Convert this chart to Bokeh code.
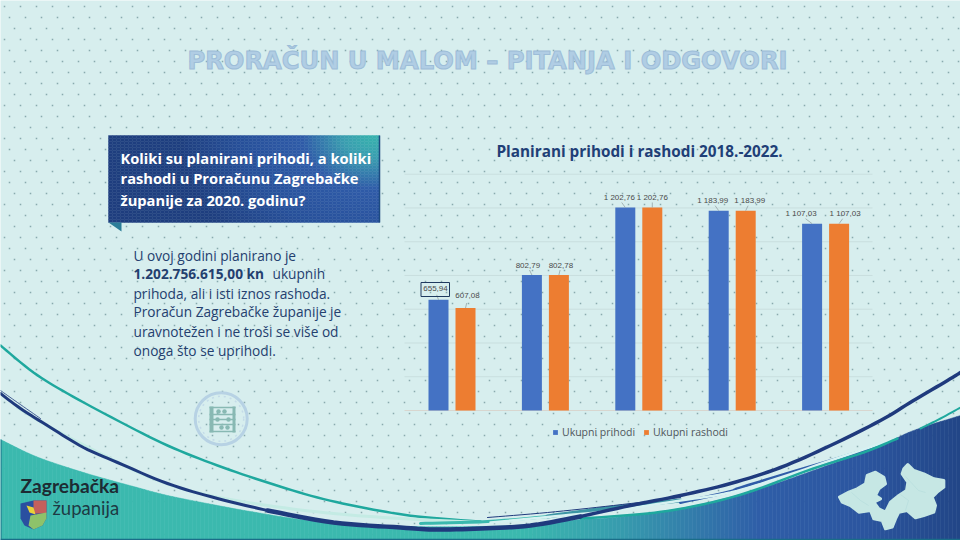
from bokeh.plotting import figure
from bokeh.models import Range1d, ColumnDataSource, Legend, LegendItem
from bokeh.core.properties import value
from bokeh.embed import file_html
from bokeh.resources import INLINE
import numpy as np

# chart data (milijuni kn)
years = [2018, 2019, 2020, 2021, 2022]
prihodi = [655.94, 802.79, 1202.76, 1183.99, 1107.03]
rashodi = [607.08, 802.78, 1202.76, 1183.99, 1107.03]
grid_values = [200, 400, 600, 800, 1000, 1200, 1400]
series_names = ["Ukupni prihodi", "Ukupni rashodi"]

# label nudges in screen px, relative to the bar top
prihodi_dx = [-3, -4, -6, -6, -11]
prihodi_dy = [-11, -10, -10, -10, -10]
rashodi_dx = [2, 2, 0, 4, 6]
rashodi_dy = [-13, -10, -10, -10, -10]

BLUE = "#4472c4"
ORANGE = "#ed7d31"
NAVY = "#1f3a7d"
TEAL = "#1fa89e"
BG = "#d7eeee"

# the slide is drawn in reference pixels
W, H = 960, 540
p = figure(width=W, height=H, output_backend="svg", toolbar_location=None,
           x_range=Range1d(0, W), y_range=Range1d(H, 0),
           x_axis_type=None, y_axis_type=None, min_border=0)
p.grid.visible = False
p.outline_line_color = None
p.background_fill_color = BG
p.border_fill_color = BG

# scales of the chart itself
BASE_Y = 410
PX_PER_UNIT = 203 / 1202.76
FIRST_X = 451.5
PX_PER_YEAR = 93.4
p.extra_y_ranges["values"] = Range1d((BASE_Y - H) / PX_PER_UNIT, BASE_Y / PX_PER_UNIT)
p.extra_x_ranges["years"] = Range1d(years[0] - FIRST_X / PX_PER_YEAR, years[0] + (W - FIRST_X) / PX_PER_YEAR)
BAR_W = 20 / PX_PER_YEAR
BAR_OFF = 13.5 / PX_PER_YEAR


def mix(stops, x):
    xs = [s[0] for s in stops]
    r = np.interp(x, xs, [int(s[1][1:3], 16) for s in stops])
    g = np.interp(x, xs, [int(s[1][3:5], 16) for s in stops])
    b = np.interp(x, xs, [int(s[1][5:7], 16) for s in stops])
    return "#%02x%02x%02x" % (int(r), int(g), int(b))


# catmull-rom through hand-read points, only for the slide's swooshes
def smooth(xs, ys, n=8):
    pts = np.column_stack([xs, ys]).astype(float)
    pts = np.vstack([pts[0], pts, pts[-1]])
    out = []
    for i in range(1, len(pts) - 2):
        a, b, c, d = pts[i - 1], pts[i], pts[i + 1], pts[i + 2]
        for t in np.linspace(0, 1, n, endpoint=False):
            out.append(0.5 * (2 * b + (c - a) * t + (2 * a - 5 * b + 4 * c - d) * t ** 2 + (3 * b - a - 3 * c + d) * t ** 3))
    out.append(pts[-2])
    out = np.array(out)
    return out[:, 0], out[:, 1]


def swoosh(xs, ys, color, width):
    sx_, sy_ = smooth(xs, ys)
    p.line(sx_, sy_, line_color=color, line_width=width, line_join="round", line_cap="round")


# dotted paper
dx, dy = [], []
for row, yy in enumerate(range(6, 540, 11)):
    for xx in range(4 + (row % 3) * 5, 960, 16):
        dx.append(xx)
        dy.append(yy)
p.scatter(dx, dy, size=1.5, marker="square", fill_color="#5f868c", line_color=None, fill_alpha=0.65)

# bottom shape with its gradient
edge_x = [0, 33, 67, 100, 133, 167, 217, 250, 300, 350, 400, 480, 530, 580, 613, 680, 747, 813, 880, 913, 960]
edge_y = [439, 455, 467, 477, 486, 495, 505, 511, 519, 524, 526, 526, 524, 519, 517, 508, 492, 470, 445, 430, 415]
fill_stops = [(0, "#3bb9ae"), (520, "#3bb9ae"), (620, "#379cae"), (760, "#2f5ea8"), (860, "#2c56a0"), (960, "#224687")]
ex, ey = smooth(edge_x, edge_y)
sx = np.arange(0, 960, 4)
sy = np.interp(np.arange(0, 964, 4), ex, ey)
strip_c = [mix(fill_stops, x + 2) for x in sx]
p.patches([[x, x + 4, x + 4, x] for x in sx],
          [[sy[i], sy[i + 1], 540, 540] for i in range(len(sx))],
          fill_color=strip_c, line_color=strip_c, line_width=0.5)
p.line([0, 960], [539, 539], line_color="#1a6d88", line_width=1.5)
p.line([0.5, 0.5], [439, 540], line_color="#1a6d88", line_width=1)

# swooshes
swoosh([0, 33, 67, 117, 167, 217, 267, 317, 367, 417, 480],
       [345, 372, 393, 420, 445, 465, 482, 497, 508, 516, 521], TEAL, 2.5)
swoosh([17, 50, 100, 150, 200, 267, 333, 400, 480],
       [407, 427, 453, 477, 493, 505, 513, 518, 522], "#c4ebe4", 3)
swoosh([0, 17, 40], [390, 402, 418], NAVY, 0.8)
swoosh([420, 487, 547], [523, 521, 516], "#3bb9ae", 3)
swoosh([547, 613, 680], [516, 507, 500], "#3c94a4", 4)
swoosh([487, 547, 613, 680], [517, 512, 505, 497], NAVY, 1)
swoosh([680, 730, 747, 880], [502, 491, 485, 445], "#2f5ca8", 3)
swoosh([490, 563, 613, 680, 730, 780, 830, 890], [522, 515, 510, 500, 492, 477, 460, 440], "#d6f2f2", 2.5)
swoosh([580, 647, 697, 747, 813, 863, 897], [518, 513, 505, 492, 468, 452, 438], TEAL, 2.5)
swoosh([920, 940, 960], [428, 418, 407], TEAL, 2)
swoosh([0, 20, 50, 83, 117, 167, 217, 267], [393, 408, 427, 447, 462, 483, 498, 510], NAVY, 3)
swoosh([267, 333, 400, 433, 480, 530, 580], [510, 522, 527, 529, 528, 525, 516], NAVY, 4.5)
swoosh([580, 630, 680, 730, 780, 830, 880, 913, 947, 960], [516, 505, 495, 483, 467, 445, 420, 400, 380, 372], NAVY, 3.5)

# map of the county
map_x = [57, 85, 110, 135, 140, 165, 190, 195, 175, 165, 180, 160, 175, 195, 210, 235, 258, 262, 245, 250, 262, 280, 310,
         340, 370, 370, 350, 335, 345, 340, 310, 285, 260, 235, 225, 215, 195, 185, 160, 150, 115, 90, 65]
map_y = [170, 155, 145, 130, 105, 95, 110, 130, 145, 165, 175, 185, 205, 215, 185, 165, 150, 125, 100, 85, 72, 90, 100,
         115, 120, 140, 155, 170, 195, 215, 225, 232, 210, 215, 235, 260, 265, 240, 235, 210, 215, 195, 185]
p.patch([820 + v / 3 for v in map_x], [440 + v / 3 for v in map_y], fill_color="#c6e7e4", line_color="#c6e7e4",
        line_width=3, line_join="round")
p.multi_line([[851, 860, 868], [905, 918, 925], [900, 908, 905]], [[492, 500, 505], [476, 490, 492], [494, 500, 510]],
             line_color="#b4dcdc", line_width=0.6)

# callout box with glow in the corner
box_stops = [(0, "#36b3ae"), (30, "#3a9db0"), (70, "#2f5ba8"), (130, "#27509a"), (190, "#1f3f80"), (400, "#1e3c7c")]
bl, bt, bc = [], [], []
for xx in range(108, 379, 4):
    for yy in range(135, 222, 3):
        d = np.hypot(xx + 2 - 372, (yy + 1.5 - 135) * 1.3)
        bl.append(xx)
        bt.append(yy)
        bc.append(mix(box_stops, d))
bl = np.array(bl)
bt = np.array(bt)
p.quad(left=bl, right=np.minimum(bl + 4, 379), top=bt, bottom=bt + 3, fill_color=bc, line_color=bc, line_width=0.4)
p.patch([108, 121, 121], [222, 222, 231], fill_color="#2b7d98", line_color=None)
p.line([379, 379], [135, 222], line_color="#1c4a80", line_width=1.5)

# abacus icon
p.circle([220.7], [418.3], radius=26, fill_color=None, line_color="#b7d2e4", line_width=3)
p.circle([220.7], [418.3], radius=22.5, fill_color=None, line_color="#c4dbe8", line_width=1.5, line_dash="dotted")
ICON = "#88b9b3"
p.quad(left=[209, 232], right=[213, 235], top=[406, 406], bottom=[432, 432], fill_color=ICON, line_color=None)
p.segment([209] * 5, [407, 414, 419, 424, 431], [235] * 5, [407, 414, 419, 424, 431], line_color=ICON, line_width=1.4)
p.scatter([218, 224, 217, 228, 221, 227], [411, 411, 419, 419, 427, 427], size=4.5, marker="circle", fill_color=ICON, line_color=None)

# coat of arms
p.patch([20, 33, 46, 46, 42, 33, 24, 20], [503, 500, 500, 518, 525, 529, 525, 518], fill_color="#2a4fa0", line_color=None)
p.patch([33, 46, 46, 33], [500, 500, 513, 513], fill_color="#c4605c", line_color=None)
p.patch([30, 46, 46, 42, 33, 28], [515, 512, 518, 525, 529, 525], fill_color="#8ec26a", line_color=None)
p.patch([26, 33, 35, 29], [505, 507, 514, 512], fill_color="#e8d23a", line_color=None)

# gridlines and bars go through the chart ranges
gx0 = [p.extra_x_ranges["years"].start + 404 / PX_PER_YEAR] * len(grid_values)
gx1 = [p.extra_x_ranges["years"].start + 872 / PX_PER_YEAR] * len(grid_values)
p.segment(gx0, grid_values, gx1, grid_values, x_range_name="years", y_range_name="values",
          line_color="#c9dfdf", line_width=1)
p.segment(gx0[:1], [0], gx1[:1], [0], x_range_name="years", y_range_name="values",
          line_color="#d8d6cf", line_width=1)

src = ColumnDataSource(dict(year=years, prihodi=prihodi, rashodi=rashodi,
                            x1=[y - BAR_OFF for y in years], x2=[y + BAR_OFF for y in years]))
b1 = p.vbar(x="x1", top="prihodi", width=BAR_W, source=src, x_range_name="years", y_range_name="values",
            fill_color=BLUE, line_color=None)
b2 = p.vbar(x="x2", top="rashodi", width=BAR_W, source=src, x_range_name="years", y_range_name="values",
            fill_color=ORANGE, line_color=None)


def fmt(v):
    return f"{v:,.2f}".replace(",", " ").replace(".", ",")


def add_labels(xs, vals, nudge_x, nudge_y):
    p.segment(xs, vals, [x + n * 0.6 / PX_PER_YEAR for x, n in zip(xs, nudge_x)],
              [v + 5 / PX_PER_UNIT for v in vals], x_range_name="years", y_range_name="values",
              line_color="#8c9a9c", line_width=0.7)
    p.text(xs, vals, text=[fmt(v) for v in vals], x_offset=nudge_x, y_offset=nudge_y,
           x_range_name="years", y_range_name="values", text_font=value("Liberation Sans"), text_font_size="8px",
           text_color="#4a4a4a", text_align="center", text_baseline="middle")


add_labels(src.data["x1"], prihodi, prihodi_dx, prihodi_dy)
add_labels(src.data["x2"], rashodi, rashodi_dx, rashodi_dy)
p.quad(left=[420.5], right=[449], top=[282], bottom=[296], fill_color=None, line_color="#1f3a5f", line_width=1)

legend = Legend(items=[LegendItem(label=series_names[0], renderers=[b1]),
                       LegendItem(label=series_names[1], renderers=[b2])],
                orientation="horizontal", location=(552, 101), background_fill_alpha=0, border_line_alpha=0,
                glyph_width=6, glyph_height=6, label_standoff=4, spacing=8, padding=0, margin=0,
                label_text_font="Open Sans", label_text_font_size="10.5px", label_text_color="#50565c")
p.add_layout(legend)


def txt(x, y, s, font="Open Sans", size=13.7, color="#24406f", style="normal", align="left", **kw):
    p.text([x], [y], text=[s], text_font=value(font), text_font_size=f"{size}px", text_color=color,
           text_font_style=style, text_align=align, text_baseline="middle", **kw)


txt(487, 60, "PRORAČUN U MALOM – PITANJA I ODGOVORI", font="DejaVu Sans", size=24.2, color="#b0cde4", style="bold",
    align="center", text_outline_color="#9dbdd8")
txt(496, 150, "Planirani prihodi i rashodi 2018.-2022.", size=15.3, color="#1f3f77", style="bold")

txt(120, 157, "Koliki su planirani prihodi, a koliki", size=14.7, color="#ffffff", style="bold")
txt(120, 177.5, "rashodi u Proračunu Zagrebačke", size=14.7, color="#ffffff", style="bold")
txt(120, 199, "županije za 2020. godinu?", size=14.7, color="#ffffff", style="bold")

txt(133, 254.5, "U ovoj godini planirano je")
txt(133, 273, "1.202.756.615,00 kn", style="bold")
txt(272, 273, "ukupnih")
txt(133, 292.5, "prihoda, ali i isti iznos rashoda.")
txt(133, 311, "Proračun Zagrebačke županije je")
txt(133, 331, "uravnotežen i ne troši se više od")
txt(133, 350, "onoga što se uprihodi.")

txt(20, 485, "Zagrebačka", font="Lato", size=19.2, color="#1d2b33", style="bold")
txt(52, 507, "županija", font="Lato", size=18.5, color="#1d3a44")

open("out.html", "w").write(file_html(p, INLINE))
